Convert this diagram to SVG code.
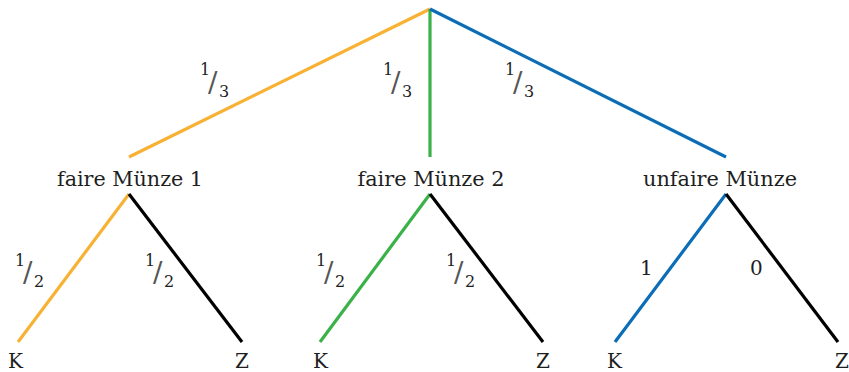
<svg xmlns="http://www.w3.org/2000/svg" width="849" height="372" viewBox="0 0 849 372">
<style>
.e{stroke-width:3.2;fill:none}
.o{stroke:#F8B133}.g{stroke:#3BB149}.b{stroke:#0B6DB7}.k{stroke:#000}
text{fill:#1e1e1e;font-family:"DejaVu Serif","Times New Roman",Times,serif}
.lab{font-size:20px;text-anchor:middle}
.leaf{font-size:20px}
.num{font-size:16px}
.sl{font-size:28px;fill:#555}
.big{font-size:20px}
</style>
<defs>
<g id="f3"><text class="num" x="0" y="0">1</text><text class="sl" x="8" y="17">/</text><text class="num" x="19" y="22">3</text></g>
<g id="f2"><text class="num" x="0" y="0">1</text><text class="sl" x="8" y="16">/</text><text class="num" x="19" y="21">2</text></g>
</defs>
<g id="connectors">
<line class="e o" x1="430" y1="9" x2="129" y2="157"/>
<line class="e g" x1="430" y1="9" x2="430" y2="157"/>
<line class="e b" x1="430" y1="9" x2="726" y2="157"/>
<line class="e o" x1="129" y1="194" x2="18" y2="342"/>
<line class="e k" x1="129" y1="194" x2="242" y2="342"/>
<line class="e g" x1="430" y1="194" x2="320" y2="342"/>
<line class="e k" x1="430" y1="194" x2="543" y2="342"/>
<line class="e b" x1="726" y1="194" x2="615" y2="342"/>
<line class="e k" x1="726" y1="194" x2="838" y2="342"/>
<g id="edge-labels">
<use href="#f3" x="200" y="75"/>
<use href="#f3" x="383" y="75"/>
<use href="#f3" x="505" y="75"/>
<use href="#f2" x="15" y="266"/>
<use href="#f2" x="145" y="266"/>
<use href="#f2" x="316" y="266"/>
<use href="#f2" x="446" y="266"/>
<text class="big" x="640" y="275">1</text>
<text class="big" x="750" y="275">0</text>
</g>
</g>
<g id="root"></g>
<g id="coin1"><text class="lab" x="130" y="186" textLength="146" lengthAdjust="spacingAndGlyphs">faire Münze 1</text></g>
<g id="coin2"><text class="lab" x="431" y="186" textLength="147" lengthAdjust="spacingAndGlyphs">faire Münze 2</text></g>
<g id="coin3"><text class="lab" x="720" y="186" textLength="154" lengthAdjust="spacingAndGlyphs">unfaire Münze</text></g>
<g id="leaf1K"><text class="leaf" x="8" y="368">K</text></g>
<g id="leaf1Z"><text class="leaf" x="235" y="368">Z</text></g>
<g id="leaf2K"><text class="leaf" x="313" y="368">K</text></g>
<g id="leaf2Z"><text class="leaf" x="536" y="368">Z</text></g>
<g id="leaf3K"><text class="leaf" x="607" y="368">K</text></g>
<g id="leaf3Z"><text class="leaf" x="835" y="368">Z</text></g>
</svg>
